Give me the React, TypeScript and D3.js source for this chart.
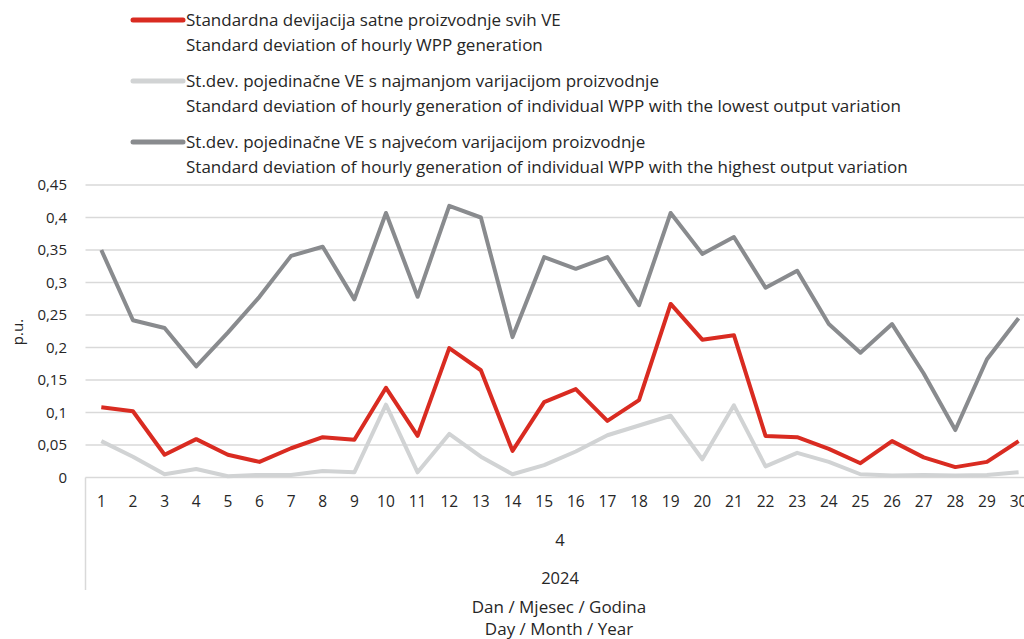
import React from "react";
import * as d3 from "d3";

const days = Array.from({ length: 30 }, (_, i) => String(i + 1));
const redSeries = [0.108,0.102,0.035,0.059,0.035,0.024,0.045,0.062,0.058,0.138,0.064,0.199,0.165,0.041,0.116,0.136,0.087,0.119,0.267,0.212,0.219,0.064,0.062,0.044,0.022,0.056,0.031,0.016,0.024,0.056];
const lightSeries = [0.056,0.032,0.005,0.013,0.002,0.004,0.004,0.010,0.008,0.112,0.008,0.067,0.032,0.005,0.019,0.040,0.065,0.080,0.095,0.028,0.111,0.017,0.038,0.024,0.005,0.003,0.004,0.003,0.004,0.008];
const darkSeries = [0.350,0.242,0.230,0.171,0.223,0.278,0.341,0.355,0.274,0.407,0.278,0.418,0.400,0.216,0.339,0.321,0.339,0.265,0.407,0.344,0.370,0.292,0.318,0.236,0.192,0.236,0.160,0.073,0.182,0.245];
const yTicks = [0,0.05,0.1,0.15,0.2,0.25,0.3,0.35,0.4,0.45];
const legendItems = [
  { color: "#d92b21", lines: ["Standardna devijacija satne proizvodnje svih VE", "Standard deviation of hourly WPP generation"] },
  { color: "#d1d3d4", lines: ["St.dev. pojedinačne VE s najmanjom varijacijom proizvodnje", "Standard deviation of hourly generation of individual WPP with the lowest output variation"] },
  { color: "#898b8e", lines: ["St.dev. pojedinačne VE s najvećom varijacijom proizvodnje", "Standard deviation of hourly generation of individual WPP with the highest output variation"] },
];
const monthLabel = "4";
const yearLabel = "2024";
const xTitle = ["Dan / Mjesec / Godina", "Day / Month / Year"];
const yTitle = "p.u.";

const font = "'Open Sans', sans-serif";

export default function App() {
  const W = 1024, H = 639;
  const left = 85.5, bandW = 31.63;
  const x = d3.scaleBand().domain(days).range([left, left + bandW * 30]);
  const y = d3.scaleLinear().domain([0, 0.45]).range([477.5, 185]);
  const line = d3.line<number>().x((_, i) => (x(days[i]) as number) + x.bandwidth() / 2).y((d) => y(d));
  const fmt = (v: number) => String(+v.toFixed(2)).replace(".", ",");
  const series = [
    { data: lightSeries, color: "#d1d3d4" },
    { data: darkSeries, color: "#898b8e" },
    { data: redSeries, color: "#d92b21" },
  ];
  return (
    <svg width={W} height={H} style={{ position: "absolute", left: 0, top: 0 }} fontFamily={font}>
      <rect width={W} height={H} fill="#fff" />
      {yTicks.map((t) => (
        <g key={t}>
          {t > 0 && <line x1={left} x2={W} y1={y(t)} y2={y(t)} stroke="#d9d9d9" strokeWidth={1.5} />}
          <text x={67} y={y(t)} dy="0.35em" textAnchor="end" fontSize={15} fill="#262626">{fmt(t)}</text>
        </g>
      ))}
      <line x1={left} x2={W} y1={y(0)} y2={y(0)} stroke="#d9d9d9" strokeWidth={1.5} />
      <line x1={left} x2={left} y1={y(0)} y2={590} stroke="#d9d9d9" strokeWidth={1.5} />
      {days.map((d) => (
        <text key={d} x={(x(d) as number) + x.bandwidth() / 2} y={502} dy="0.35em" textAnchor="middle" fontSize={15.5} fill="#262626">{d}</text>
      ))}
      <text x={560} y={540} dy="0.35em" textAnchor="middle" fontSize={16.5} fill="#262626">{monthLabel}</text>
      <text x={560} y={578} dy="0.35em" textAnchor="middle" fontSize={16.5} fill="#262626">{yearLabel}</text>
      <text x={559} y={607} dy="0.35em" textAnchor="middle" fontSize={17} fill="#262626">{xTitle[0]}</text>
      <text x={559} y={629} dy="0.35em" textAnchor="middle" fontSize={17} fill="#262626">{xTitle[1]}</text>
      <text transform={`translate(18,${332}) rotate(-90)`} dy="0.35em" textAnchor="middle" fontSize={15} fill="#262626">{yTitle}</text>
      {series.map((s, i) => (
        <path key={i} d={line(s.data) || ""} fill="none" stroke={s.color} strokeWidth={4} strokeLinejoin="round" />
      ))}
      {legendItems.map((it, i) => {
        const cy = 20 + i * 61;
        return (
          <g key={i}>
            <line x1={133} x2={183} y1={cy} y2={cy} stroke={it.color} strokeWidth={5} strokeLinecap="round" />
            <text x={186} y={cy} dy="0.35em" fontSize={17} fill="#262626">{it.lines[0]}</text>
            <text x={186} y={cy + 25} dy="0.35em" fontSize={17} fill="#262626">{it.lines[1]}</text>
          </g>
        );
      })}
    </svg>
  );
}
